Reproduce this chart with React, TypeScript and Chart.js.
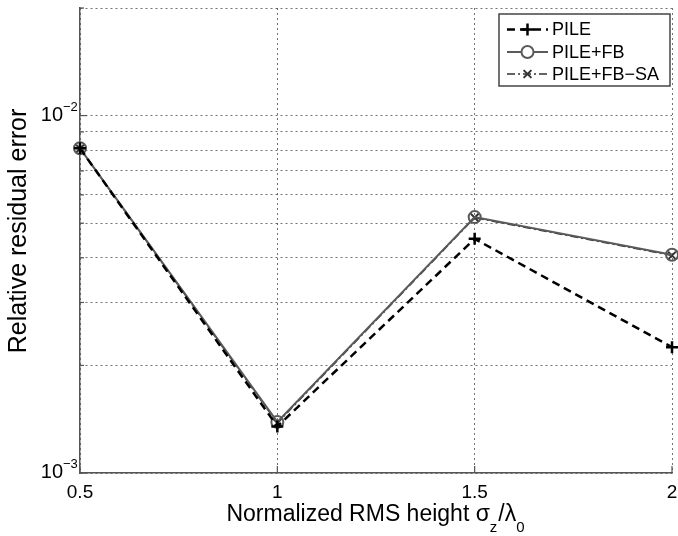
import React, { useEffect, useRef } from 'react';
import { Chart, registerables } from 'chart.js';

Chart.register(...registerables);

// ---- data ----
const xValues = [0.5, 1, 1.5, 2];
const pileValues = [8.1e-3, 1.35e-3, 4.52e-3, 2.25e-3];
const pileFbValues = [8.1e-3, 1.39e-3, 5.2e-3, 4.08e-3];
const pileFbSaValues = [8.08e-3, 1.38e-3, 5.18e-3, 4.06e-3];
const seriesLabels = ['PILE', 'PILE+FB', 'PILE+FB\u2212SA'];

const xTickValues = [0.5, 1, 1.5, 2];
const xTickLabels = ['0.5', '1', '1.5', '2'];
const yTickValues = [0.001, 0.002, 0.003, 0.004, 0.005, 0.006, 0.007, 0.008, 0.009, 0.01, 0.02];
const yDecadeValues = [0.001, 0.01];
const yDecadeExponents = ['\u22123', '\u22122'];
const yTitle = 'Relative residual error';
const xTitleParts = [
  { text: 'Normalized RMS height \u03c3', sub: false },
  { text: 'z', sub: true },
  { text: '/\u03bb', sub: false },
  { text: '0', sub: true },
];

const FONT = "'Liberation Sans', Arial, Helvetica, sans-serif";

function drawMarker(ctx: CanvasRenderingContext2D, style: string, cx: number, cy: number, r: number) {
  ctx.beginPath();
  if (style === 'cross') {
    ctx.moveTo(cx - r, cy); ctx.lineTo(cx + r, cy);
    ctx.moveTo(cx, cy - r); ctx.lineTo(cx, cy + r);
  } else if (style === 'crossRot') {
    const d = r * Math.SQRT1_2;
    ctx.moveTo(cx - d, cy - d); ctx.lineTo(cx + d, cy + d);
    ctx.moveTo(cx - d, cy + d); ctx.lineTo(cx + d, cy - d);
  } else {
    ctx.arc(cx, cy, r, 0, Math.PI * 2);
  }
  ctx.stroke();
}

const decorPlugin = {
  id: 'decor',
  beforeDatasetsDraw(chart: any) {
    const { ctx, chartArea, scales } = chart;
    const xs = scales.x, ys = scales.y;
    ctx.save();
    ctx.strokeStyle = '#555';
    ctx.lineWidth = 1.2;
    ctx.setLineDash([]);
    ys.ticks.forEach((t: any) => {
      const py = ys.getPixelForValue(t.value);
      const len = yDecadeValues.includes(t.value) ? 7 : 4;
      ctx.beginPath();
      ctx.moveTo(chartArea.left, py);
      ctx.lineTo(chartArea.left + len, py);
      ctx.stroke();
    });
    xs.ticks.forEach((t: any) => {
      const px = xs.getPixelForValue(t.value);
      ctx.beginPath();
      ctx.moveTo(px, chartArea.bottom);
      ctx.lineTo(px, chartArea.bottom - 7);
      ctx.stroke();
    });
    ctx.restore();
  },
  afterDraw(chart: any) {
    const { ctx, chartArea, scales } = chart;
    const xs = scales.x, ys = scales.y;
    ctx.save();
    ctx.fillStyle = '#000';

    // x tick labels
    ctx.font = `19px ${FONT}`;
    ctx.textAlign = 'center';
    ctx.textBaseline = 'alphabetic';
    xs.ticks.forEach((t: any) => {
      const i = xTickValues.indexOf(t.value);
      if (i < 0) return;
      ctx.fillText(xTickLabels[i], xs.getPixelForValue(t.value), chartArea.bottom + 25);
    });

    // y tick labels (decades)
    yDecadeValues.forEach((v, i) => {
      const py = ys.getPixelForValue(v);
      ctx.font = `20px ${FONT}`;
      ctx.textAlign = 'right';
      ctx.fillText('10', chartArea.left - 17, py + 5);
      ctx.font = `13px ${FONT}`;
      ctx.textAlign = 'left';
      ctx.fillText(yDecadeExponents[i], chartArea.left - 17, py - 5);
    });

    // y title
    ctx.save();
    ctx.font = `25px ${FONT}`;
    ctx.textAlign = 'center';
    ctx.textBaseline = 'alphabetic';
    ctx.translate(26, 231);
    ctx.rotate(-Math.PI / 2);
    ctx.fillText(yTitle, 0, 0);
    ctx.restore();

    // x title with subscripts
    const mainFont = `23px ${FONT}`;
    const subFont = `15px ${FONT}`;
    ctx.textAlign = 'left';
    let total = 0;
    xTitleParts.forEach((p) => {
      ctx.font = p.sub ? subFont : mainFont;
      total += ctx.measureText(p.text).width + (p.sub ? 1 : 0);
    });
    let cx = (chartArea.left + chartArea.right) / 2 - total / 2;
    const base = 521;
    xTitleParts.forEach((p) => {
      ctx.font = p.sub ? subFont : mainFont;
      ctx.fillText(p.text, cx, p.sub ? base + 11 : base);
      cx += ctx.measureText(p.text).width + (p.sub ? 1 : 0);
    });

    // legend
    const bx = 499, by = 14, bw = 171, bh = 72;
    ctx.fillStyle = '#fff';
    ctx.fillRect(bx, by, bw, bh);
    ctx.strokeStyle = '#444';
    ctx.lineWidth = 1.5;
    ctx.setLineDash([]);
    ctx.strokeRect(bx, by, bw, bh);
    const rows = [29.5, 52, 74];
    chart.data.datasets.forEach((ds: any, i: number) => {
      const yy = rows[i];
      ctx.save();
      ctx.strokeStyle = ds.borderColor;
      ctx.lineWidth = ds.borderWidth;
      ctx.setLineDash(ds.borderDash || []);
      ctx.beginPath();
      ctx.moveTo(507, yy);
      ctx.lineTo(548, yy);
      ctx.stroke();
      ctx.setLineDash([]);
      ctx.strokeStyle = ds.pointBorderColor;
      ctx.lineWidth = ds.pointBorderWidth;
      if (ds.pointStyle === 'circle') {
        ctx.fillStyle = '#fff';
        ctx.beginPath();
        ctx.arc(527.5, yy, ds.pointRadius, 0, Math.PI * 2);
        ctx.fill();
      }
      drawMarker(ctx, ds.pointStyle, 527.5, yy, ds.pointRadius);
      ctx.restore();
      ctx.fillStyle = '#000';
      ctx.font = `18px ${FONT}`;
      ctx.textAlign = 'left';
      ctx.textBaseline = 'middle';
      ctx.fillText(ds.label, 552, yy + 1);
    });
    ctx.restore();
  },
};

export default function App() {
  const canvasRef = useRef<HTMLCanvasElement | null>(null);

  useEffect(() => {
    const canvas = canvasRef.current;
    if (!canvas) return;
    const toPoints = (vals: number[]) => xValues.map((x, i) => ({ x, y: vals[i] }));
    const chart = new Chart(canvas, {
      type: 'line',
      data: {
        datasets: [
          {
            label: seriesLabels[0],
            data: toPoints(pileValues),
            borderColor: '#000',
            borderWidth: 2.5,
            borderDash: [8, 5],
            pointStyle: 'cross',
            pointRadius: 6,
            pointBorderColor: '#000',
            pointBorderWidth: 2.5,
            pointBackgroundColor: '#000',
            fill: false,
            tension: 0,
            clip: false,
          },
          {
            label: seriesLabels[1],
            data: toPoints(pileFbValues),
            borderColor: '#5a5a5a',
            borderWidth: 2,
            pointStyle: 'circle',
            pointRadius: 6,
            pointBorderColor: '#5a5a5a',
            pointBorderWidth: 2,
            pointBackgroundColor: 'rgba(0,0,0,0)',
            fill: false,
            tension: 0,
            clip: false,
          },
          {
            label: seriesLabels[2],
            data: toPoints(pileFbSaValues),
            borderColor: '#333',
            borderWidth: 1.5,
            borderDash: [8, 3, 2, 3],
            pointStyle: 'crossRot',
            pointRadius: 5.5,
            pointBorderColor: '#333',
            pointBorderWidth: 2,
            pointBackgroundColor: '#333',
            fill: false,
            tension: 0,
            clip: false,
          },
        ] as any,
      },
      options: {
        responsive: false,
        animation: false,
        layout: { autoPadding: false, padding: { top: 8, left: 80, right: 6, bottom: 63 } },
        plugins: {
          legend: { display: false },
          tooltip: { enabled: false },
        },
        scales: {
          x: {
            type: 'linear',
            min: 0.5,
            max: 2,
            afterBuildTicks: (s: any) => {
              s.ticks = xTickValues.map((v) => ({ value: v }));
            },
            ticks: { display: false },
            grid: { color: 'rgba(0,0,0,0.55)', lineWidth: 1, drawTicks: false },
            border: { display: true, color: '#555', width: 1.5, dash: [2, 3] },
          },
          y: {
            type: 'logarithmic',
            min: 0.001,
            max: 0.02,
            afterBuildTicks: (s: any) => {
              s.ticks = yTickValues.map((v) => ({ value: v }));
            },
            ticks: { display: false },
            grid: { color: 'rgba(0,0,0,0.55)', lineWidth: 1, drawTicks: false },
            border: { display: true, color: '#555', width: 1.5, dash: [2, 3] },
          },
        },
      } as any,
      plugins: [decorPlugin],
    });
    return () => chart.destroy();
  }, []);

  return (
    <div style={{ position: 'fixed', left: 0, top: 0, width: 678, height: 536, background: '#fff' }}>
      <canvas ref={canvasRef} width={678} height={536} style={{ display: 'block' }} />
    </div>
  );
}
